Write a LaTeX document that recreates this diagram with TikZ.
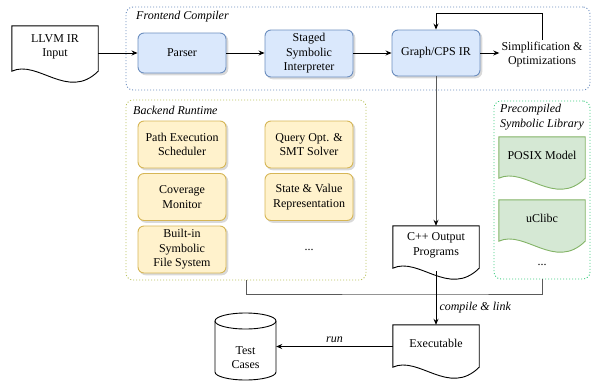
\documentclass[tikz,border=0pt]{standalone}
\usepackage{fontspec}
\setmainfont{Liberation Serif}
\usetikzlibrary{arrows.meta,backgrounds,calc}
\definecolor{bfill}{HTML}{DAE8FC}
\definecolor{bline}{HTML}{6C8EBF}
\definecolor{yfill}{HTML}{FFF2CC}
\definecolor{yline}{HTML}{D6B656}
\definecolor{gfill}{HTML}{D5E8D4}
\definecolor{gline}{HTML}{82B366}
\definecolor{feline}{HTML}{6C8EBF}
\definecolor{beline}{HTML}{B9C25C}
\definecolor{prline}{HTML}{3DCC80}
\definecolor{greyline}{HTML}{5A5A5A}
\definecolor{shad}{HTML}{D9D9D9}
\newcommand\mydoc[4]{%
  \begin{scope}[on background layer]
  \draw[fill=#2, draw=#3, line width=0.9pt] let \p1=(#1.north west), \p2=(#1.south east), \n1={\x2-\x1} in
    (\x1,\y1) -- (\x2,\y1) -- (\x2,{\y2-#4})
    .. controls ({\x2-0.35*\n1},{\y2-#4-30pt}) and ({\x1+0.3*\n1},{\y2-#4+12pt}) ..
    (\x1,{\y2-#4}) -- cycle;
  \end{scope}}
\begin{document}
\begin{tikzpicture}[x=1pt,y=-1pt,
  font=\rmfamily\fontsize{12}{14.5}\selectfont,
  box/.style={rounded corners=6pt, line width=0.9pt, align=center, minimum width=88pt,
    preaction={draw=shad, fill=shad, line width=0.9pt, transform canvas={xshift=1.8pt, yshift=-1.8pt}}},
  bluebox/.style={box, draw=bline, fill=bfill},
  yelbox/.style={box, draw=yline, fill=yfill, minimum height=47pt},
  docnode/.style={align=center, minimum width=86pt, inner sep=0pt},
  grp/.style={dash pattern=on 1pt off 2pt, line width=0.9pt, rounded corners=7pt},
  glabel/.style={font=\rmfamily\fontsize{12}{14.5}\selectfont\itshape, inner sep=0pt, align=left},
  arr/.style={line width=1pt, -{Stealth[length=6pt,width=5pt]}},
  garr/.style={line width=1pt, draw=greyline, -{Stealth[length=6pt,width=5pt,color=black]}},
  gl/.style={line width=1pt, draw=greyline}
]
\useasboundingbox (0,0) rectangle (592,381);

% groups
\node (fe) [grp, draw=feline, minimum width=464pt, minimum height=83pt] at (358,48.5) {};
\node (fel) [glabel, anchor=base west] at (136,19) {Frontend Compiler};
\node (be) [grp, draw=beline, minimum width=240pt, minimum height=180pt] at (246,190) {};
\node (bel) [glabel, anchor=base west] at (133,114) {Backend Runtime};
\node (pr) [grp, draw=prline, minimum width=96pt, minimum height=178pt] at (542,190) {};
\node (prl) [glabel, anchor=north west] at (500,104) {Precompiled\\Symbolic Library};

% frontend
\node (llvm) [docnode, minimum height=42pt] at (55,47) {LLVM IR\\Input};
\mydoc{llvm}{white}{black}{3pt}
\node (parser) [bluebox, minimum height=40pt] at (182,53) {Parser};
\node (staged) [bluebox, minimum height=47pt] at (309,53.5) {Staged\\Symbolic\\Interpreter};
\node (graph) [bluebox, minimum height=46pt] at (436,53) {Graph/CPS IR};
\node (simp) [align=center, inner sep=2pt] at (542,54.5) {Simplification \&\\Optimizations};
\coordinate (lp) at (542,13);

\draw[arr] (llvm.east |- parser.west) -- (parser.west);
\draw[arr] (parser.east) -- (parser.east -| staged.west);
\draw[arr] (staged.east |- graph.west) -- (graph.west);
\draw[arr] (graph.east) -- (graph.east -| simp.west);
\draw[arr] (simp.north) -- (simp.north |- lp) -| (graph.north);

% backend
\node (pes) [yelbox] at (182,144.5) {Path Execution\\Scheduler};
\node (qo)  [yelbox] at (309,144.5) {Query Opt. \&\\SMT Solver};
\node (cm)  [yelbox] at (182,197) {Coverage\\Monitor};
\node (sv)  [yelbox] at (309,197) {State \& Value\\Representation};
\node (fs)  [yelbox] at (182,249.5) {Built-in\\Symbolic\\File System};
\node (bdots) at (309,250) {...};

% precompiled
\node (posix) [docnode, minimum height=37pt] at (542,155.5) {POSIX Model};
\mydoc{posix}{gfill}{gline}{4pt}
\node (uclibc) [docnode, minimum height=36pt] at (542,218) {uClibc};
\mydoc{uclibc}{gfill}{gline}{5pt}
\node (pdots) at (542,265) {...};

% output
\node (cpp) [docnode, minimum height=39pt] at (436,245.5) {C++ Output\\Programs};
\mydoc{cpp}{white}{black}{3pt}
\draw[garr] (graph.south) -- (cpp.north);

\coordinate (mj) at (436,294);
\draw[gl] (be.south) |- (mj) -| (pr.south);

\node (exe) [docnode, minimum height=37pt] at (436,343.5) {Executable};
\mydoc{exe}{white}{black}{5pt}
\draw[arr] ([yshift=-6pt]cpp.south) -- node[pos=0.68, anchor=west, font=\rmfamily\fontsize{12}{14.5}\selectfont\itshape, inner sep=3pt] {compile \& link} (exe.north);

% test cases cylinder
\begin{scope}[on background layer]
\draw[fill=white, line width=0.9pt] (215,321) -- (215,372) .. controls (215,376.4) and (228.7,380) .. (245.5,380)
  .. controls (262.3,380) and (276,376.4) .. (276,372) -- (276,321);
\draw[fill=white, line width=0.9pt] (245.5,321) ellipse [x radius=30.5, y radius=8];
\end{scope}
\node (tc) [align=center, minimum width=61pt, inner sep=0pt] at (245.5,357.5) {Test\\Cases};
\draw[arr] ([yshift=-3pt]exe.west) -- node[above, font=\rmfamily\fontsize{12}{14.5}\selectfont\itshape, inner sep=3pt] {run} ([yshift=-3pt]exe.west -| tc.east);
\end{tikzpicture}
\end{document}
